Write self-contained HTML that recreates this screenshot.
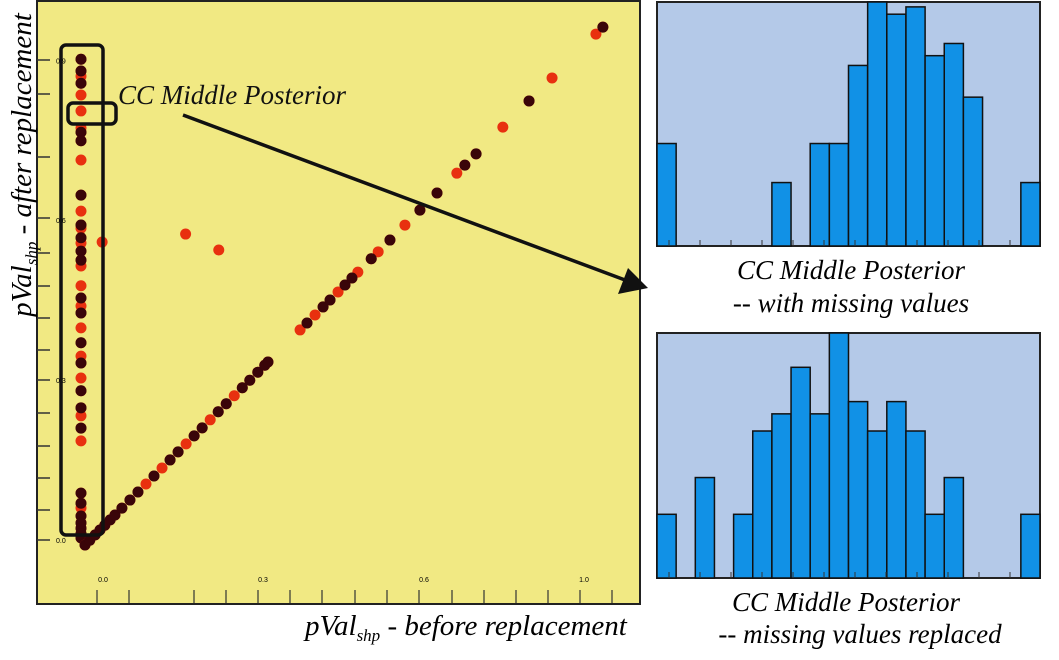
<!DOCTYPE html>
<html><head><meta charset="utf-8"><style>
body{margin:0;background:#fff;width:1059px;height:660px;overflow:hidden;font-family:"Liberation Serif",serif}
svg{display:block}
</style></head><body>
<svg id="chart" width="1059" height="660" xmlns="http://www.w3.org/2000/svg">
<rect x="37" y="1" width="603" height="603" fill="#f1e983" stroke="#222" stroke-width="2"/>
<g id="yticks"></g>
<g id="xticks"></g>
<g id="points"></g>
<rect x="61" y="45" width="42" height="490" rx="5" fill="none" stroke="#111" stroke-width="3.5"/>
<rect x="68" y="103" width="48" height="21" rx="5" fill="none" stroke="#111" stroke-width="3.5"/>
<text x="118" y="104" font-size="27" font-style="italic" fill="#111">CC Middle Posterior</text>
<line x1="183" y1="115" x2="625" y2="280" stroke="#111" stroke-width="3.5"/>
<polygon points="648,288 618,294 628,268" fill="#111"/>
<text x="305" y="635" font-size="29" font-style="italic">pVal<tspan font-size="17" dy="6">shp</tspan><tspan dy="-6"> - before replacement</tspan></text>
<text transform="translate(31,165) rotate(-90)" text-anchor="middle" font-size="29" font-style="italic">pVal<tspan font-size="17" dy="6">shp</tspan><tspan dy="-6"> - after replacement</tspan></text>
<g id="hist1"></g>
<g id="hist2"></g>
<text x="851" y="279" text-anchor="middle" font-size="27" font-style="italic">CC Middle Posterior</text>
<text x="851" y="312" text-anchor="middle" font-size="27" font-style="italic">-- with missing values</text>
<text x="846" y="611" text-anchor="middle" font-size="27" font-style="italic">CC Middle Posterior</text>
<text x="860" y="643" text-anchor="middle" font-size="27" font-style="italic">-- missing values replaced</text>
</svg>
<script>
const colY=[0.902,0.88,0.87,0.857,0.835,0.805,0.773,0.765,0.749,0.713,0.647,0.617,0.591,0.585,0.567,0.557,0.542,0.525,0.514,0.477,0.454,0.439,0.426,0.398,0.370,0.345,0.332,0.304,0.280,0.248,0.233,0.210,0.186,0.088,0.069,0.060,0.045,0.032,0.022,0.012,0.004];
const colDark=[1,1,0,1,0,0,0,1,1,0,1,0,1,0,1,0,1,1,0,0,1,0,1,0,1,0,1,0,1,1,0,1,0,1,1,0,1,1,1,1,1];
const diagX=[0,0.009,0.019,0.028,0.037,0.047,0.056,0.069,0.084,0.099,0.114,0.129,0.144,0.159,0.174,0.189,0.204,0.219,0.234,0.249,0.264,0.279,0.294,0.308,0.323,0.336,0.342,0.402,0.415,0.430,0.445,0.458,0.473,0.486,0.499,0.510,0.535,0.548,0.570,0.598,0.626,0.658,0.695,0.710,0.731,0.781,0.830,0.873,0.955,0.968];
const diagDark=[1,1,1,1,1,1,1,1,1,1,0,1,0,1,1,0,1,1,0,1,1,0,1,1,1,1,1,0,1,0,1,1,0,1,1,0,1,0,1,0,1,1,0,1,1,0,1,0,0,1];
const offX=[0.16,0.222,0.004];
const offY=[0.574,0.544,0.559];
const yTickLabels=["0.0","0.3","0.6","0.9"];
const xTickLabels=["0.0","0.3","0.6","1.0"];
const h1=[42,0,0,0,0,0,26,0,42,42,74,100,95,98,78,83,61,0,0,26];
const h2=[26,0,41,0,26,60,67,86,67,100,72,60,72,60,26,41,0,0,0,26];
const NS="http://www.w3.org/2000/svg";
const sx=v=>100+v*535, sy=v=>540-v*533;
const dx=v=>85+v*535, dy=v=>545-v*535;
function mk(tag,attrs,parent){const e=document.createElementNS(NS,tag);for(const k in attrs)e.setAttribute(k,attrs[k]);parent.appendChild(e);return e;}
const P=document.getElementById('points');
function dot(x,y,dark){const c=mk('circle',{cx:x,cy:y,r:5.5,fill:dark?'#3a0509':'#e8300f'},P);

}
colY.forEach((v,i)=>{dot(81,sy(v),0);});
colY.forEach((v,i)=>{if(colDark[i])dot(81,sy(v),1);});
diagX.forEach((v,i)=>dot(dx(v),dy(v),0));
diagX.forEach((v,i)=>{if(diagDark[i])dot(dx(v),dy(v),1);});
offX.forEach((v,i)=>dot(sx(v),sy(offY[i]),0));
const YT=document.getElementById('yticks');
[60,94,157,218,253,286,318,350,380,413,446,478,510,540].forEach(y=>{const l=mk('line',{x1:37,x2:50,y1:y,y2:y,stroke:'#333','stroke-width':1.5},YT);

});
[0,0.3,0.6,0.9].forEach((v,i)=>{const t=mk('text',{x:56,y:sy(v)+3,'font-size':7,'font-family':'Liberation Sans, sans-serif'},YT);t.textContent=yTickLabels[i];

});
const XT=document.getElementById('xticks');
[97,129,194,226,258,290,322,355,387,419,452,484,516,548,580,612].forEach(x=>{const l=mk('line',{x1:x,x2:x,y1:590,y2:603,stroke:'#333','stroke-width':1.2},XT);

});
[103,263,424,584].forEach((x,i)=>{const t=mk('text',{x:x,y:582,'font-size':7,'text-anchor':'middle','font-family':'Liberation Sans, sans-serif'},XT);t.textContent=xTickLabels[i];

});
function hist(g,data,top,bottom){
 const G=document.getElementById(g);const x0=657,x1=1040,bw=(x1-x0)/data.length;const H=bottom-top;
 mk('rect',{x:x0,y:top,width:x1-x0,height:H,fill:'#b4c9e8',stroke:'#222','stroke-width':2},G);
 data.forEach((v,i)=>{if(!v)return;const h=v/100*H;const r=mk('rect',{x:x0+i*bw,y:bottom-h,width:bw,height:h,fill:'#1191e6',stroke:'#111','stroke-width':1.5},G);
 
 });
 for(let i=0;i<=11;i++){mk('line',{x1:x0+12+i*31,x2:x0+12+i*31,y1:bottom-6,y2:bottom,stroke:'#333'},G);}
}
hist('hist1',h1,2,246);
hist('hist2',h2,333,578);
</script>
</body></html>
